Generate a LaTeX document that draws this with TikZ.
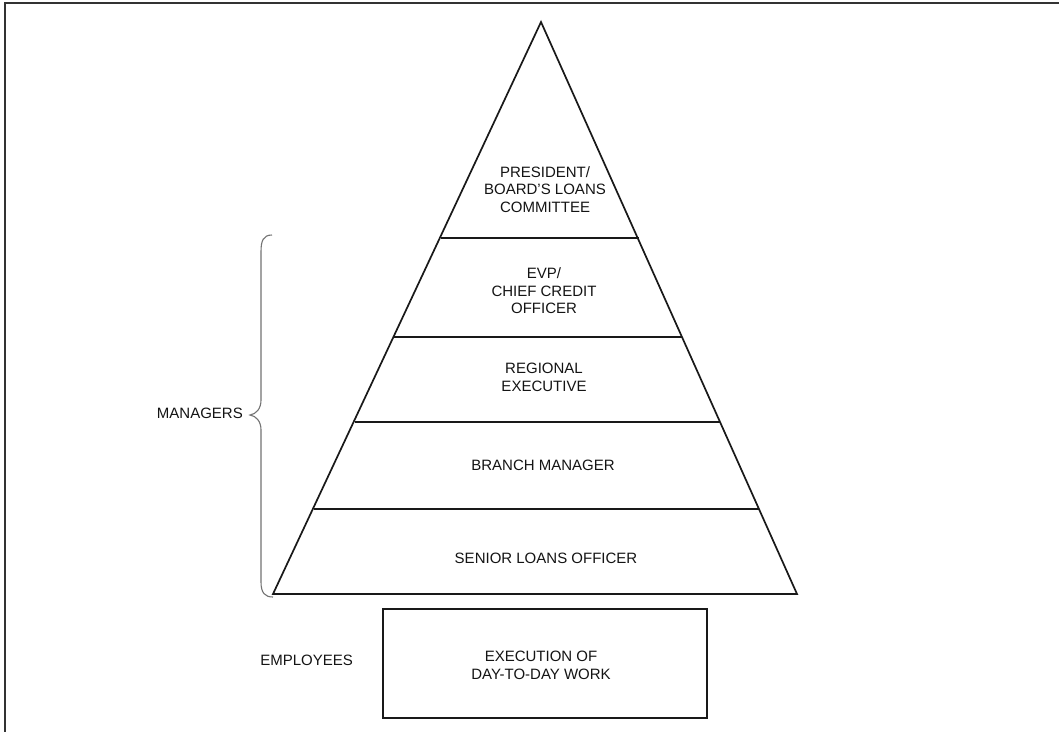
\documentclass[tikz,border=0pt]{standalone}
\usepackage{fontspec}
\setmainfont{Liberation Sans}
\begin{document}
\begin{tikzpicture}[x=1pt,y=-1pt,
  edge/.style={draw=black!90,line width=1.7pt,line join=miter},
  lbl/.style={text=black!92,font=\fontsize{15}{17.5}\selectfont,align=center,inner sep=0pt},
  frame/.style={draw=black!80,line width=1.4pt},
  bracestyle/.style={draw=black!55,line width=1.1pt}]
\useasboundingbox (0,0) rectangle (1059,732);
\fill[white] (0,0) rectangle (1059,732);
% frame (top and left)
\coordinate (ftr) at (1059,3);
\coordinate (ftl) at (5,3);
\coordinate (fbl) at (5,732);
\draw[frame] (ftr) -- (ftl) -- (fbl);
% pyramid
\coordinate (apex) at (541,22);
\coordinate (bl) at (273,594);
\coordinate (br) at (797,594);
\draw[edge] (apex) -- (bl) -- (br) -- cycle;
\coordinate (d1l) at (440.5,238); \coordinate (d1r) at (638.5,238);
\coordinate (d2l) at (394,337);   \coordinate (d2r) at (682,337);
\coordinate (d3l) at (355,422);   \coordinate (d3r) at (720,422);
\coordinate (d4l) at (314,509);   \coordinate (d4r) at (759,509);
\draw[edge] (d1l) -- (d1r);
\draw[edge] (d2l) -- (d2r);
\draw[edge] (d3l) -- (d3r);
\draw[edge] (d4l) -- (d4r);
% level labels
\node[lbl] (pres) at (545,189.5) {PRESIDENT/\\BOARD\symbol{39}S LOANS\\COMMITTEE};
\node[lbl] (evp) at (544,291) {EVP/\\CHIEF CREDIT\\OFFICER};
\node[lbl] (reg) at (544,377.5) {REGIONAL\\EXECUTIVE};
\node[lbl] (bm) at (543,465) {BRANCH MANAGER};
\node[lbl] (slo) at (546,558) {SENIOR LOANS OFFICER};
% employees box
\node[draw=black!90,line width=1.7pt,minimum width=324pt,minimum height=109pt,inner sep=0pt] (box) at (545,663.5) {};
\node[lbl] (exe) at (541,665.5) {EXECUTION OF\\DAY-TO-DAY WORK};
\node[lbl,anchor=east] (emp) at (353,660) {EMPLOYEES};
% brace
\coordinate (btop) at (272,235);
\coordinate (btip) at (250,415);
\coordinate (bbot) at (273,597);
\draw[bracestyle] (btop) .. controls (263,235) and (261,241) .. (261,252)
  -- (261,400) .. controls (261,409) and (256,414) .. (btip)
  .. controls (256,416) and (261,421) .. (261,430)
  -- (261,582) .. controls (261,593) and (265,597) .. (bbot);
\node[lbl,anchor=east] (mgr) at (243,413) {MANAGERS};
\end{tikzpicture}
\end{document}
